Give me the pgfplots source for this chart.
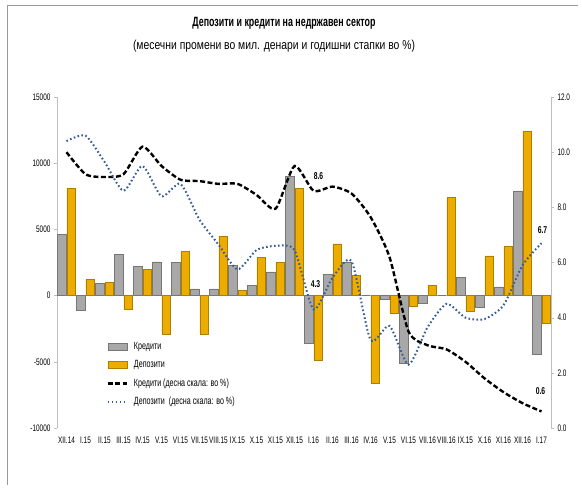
\documentclass[border=0pt]{standalone}
\usepackage{fontspec}
\setmainfont{Liberation Sans}
\newfontfamily\narrow[FakeStretch=0.68]{Liberation Sans}
\newfontfamily\narrowt[FakeStretch=0.66]{Liberation Sans}
\newfontfamily\narrows[FakeStretch=0.8]{Liberation Sans}
\usepackage{pgfplots}
\pgfplotsset{compat=1.18}
\pgfplotsset{myline legend/.style={legend image code/.code={\draw[##1] (0bp,0bp) -- (19bp,0bp); \path (23bp,0bp);}}}
\definecolor{gold}{RGB}{236,172,0}
\definecolor{golddark}{RGB}{175,125,0}
\definecolor{barg}{RGB}{168,168,168}
\definecolor{bargdark}{RGB}{118,118,118}
\definecolor{dotblue}{RGB}{52,92,150}
\definecolor{axgray}{RGB}{190,190,190}
\begin{document}
\begin{tikzpicture}[x=1bp,y=1bp]
\path[use as bounding box] (0,0) rectangle (582,489);
\draw[gray!80, line width=0.8bp] (7,484) -- (578,484);
\draw[gray!80, line width=0.8bp] (7,484) -- (7,4);
\node[font=\narrowt\bfseries\fontsize{13.5}{13.5}\selectfont] at (284,466) {Депозити и кредити на недржавен сектор};
\node[font=\narrows\fontsize{13}{13}\selectfont] at (274,443) {(месечни промени во мил. денари и годишни стапки во \%)};
\begin{axis}[
  at={(57bp,61bp)}, anchor=south west, scale only axis,
  width=494bp, height=331bp,
  xmin=-0.5, xmax=25.5, ymin=-10000, ymax=15000,
  axis y line*=left, axis x line*=bottom,
  x axis line style={draw=none},
  y axis line style={draw=axgray},
  xtick={0,...,25},
  xticklabels={XII.14,I.15,II.15,III.15,IV.15,V.15,VI.15,VII.15,VIII.15,IX.15,X.15,XI.15,XII.15,I.16,II.16,III.16,IV.16,V.15,VI.15,VII.16,VIII.16,IX.15,X.16,XI.16,XII.16,I.17},
  major x tick style={draw=none},
  xticklabel style={font=\narrow\fontsize{9.5}{9.5}\selectfont, yshift=-2bp},
  ytick={-10000,-5000,0,5000,10000,15000},
  scaled y ticks=false,
  yticklabel style={font=\narrow\fontsize{9.5}{9.5}\selectfont, /pgf/number format/fixed, /pgf/number format/1000 sep={}, /pgf/number format/assume math mode=true},
  tick align=outside, major tick length=3bp,
  major y tick style={draw=axgray},
  clip=false,
]
\draw[axgray, line width=0.8bp] (-0.5,0) -- (25.5,0);
\addplot[ybar, bar width=8.5bp, bar shift=-4.6bp, fill=barg, draw=bargdark, line width=0.5bp] coordinates {
(0,4600) (1,-1100) (2,950) (3,3100) (4,2200) (5,2550) (6,2500) (7,500) (8,500) (9,2300) (10,800) (11,1800) (12,9000) (13,-3600) (14,1600) (15,2500) (16,0) (17,-300) (18,-5100) (19,-600) (20,0) (21,1400) (22,-900) (23,650) (24,7900) (25,-4400)};
\addplot[ybar, bar width=8.5bp, bar shift=4.6bp, fill=gold, draw=golddark, line width=0.5bp] coordinates {
(0,8100) (1,1250) (2,1000) (3,-1000) (4,2000) (5,-2900) (6,3350) (7,-2900) (8,4500) (9,400) (10,2900) (11,2500) (12,8100) (13,-4900) (14,3900) (15,1500) (16,-6600) (17,-1300) (18,-800) (19,750) (20,7400) (21,-1200) (22,3000) (23,3700) (24,12400) (25,-2100)};
\end{axis}
\begin{axis}[
  at={(57bp,61bp)}, anchor=south west, scale only axis,
  width=494bp, height=331bp,
  xmin=-0.5, xmax=25.5, ymin=0, ymax=12,
  axis y line*=right, axis x line=none,
  y axis line style={draw=axgray},
  ytick={0,2,...,12},
  yticklabel style={font=\narrow\fontsize{9.5}{9.5}\selectfont, /pgf/number format/fixed, /pgf/number format/fixed zerofill, /pgf/number format/precision=1, /pgf/number format/assume math mode=true},
  tick align=outside, major tick length=3bp,
  major y tick style={draw=axgray},
  clip=false,
  legend style={draw=none, fill=none, at={(0.1,0.265)}, anchor=north west, font=\narrow\fontsize{10.5}{11}\selectfont, row sep=5.5bp, inner sep=0pt},
  legend cell align=left,
]
\addlegendimage{legend image code/.code={\draw[fill=barg, draw=bargdark, line width=0.5bp] (0bp,-3.5bp) rectangle (19bp,3.5bp); \path (23bp,0bp);}}
\addlegendentry{Кредити}
\addlegendimage{legend image code/.code={\draw[fill=gold, draw=golddark, line width=0.5bp] (0bp,-3.5bp) rectangle (19bp,3.5bp); \path (23bp,0bp);}}
\addlegendentry{Депозити}
\addplot[black, line width=2.4bp, dash pattern=on 5bp off 2.5bp, smooth, tension=0.4, myline legend] coordinates {
(0,10.0) (1,9.2) (2,9.1) (3,9.2) (4,10.2) (5,9.5) (6,9.0) (7,8.95) (8,8.85) (9,8.85) (10,8.45) (11,7.95) (12,9.5) (13,8.6) (14,8.75) (15,8.5) (16,7.65) (17,6.2) (18,3.5) (19,3.0) (20,2.85) (21,2.4) (22,1.8) (23,1.3) (24,0.9) (25,0.6)};
\addlegendentry{Кредити (десна скала: во \%)}
\addplot[dotblue, line width=2bp, dash pattern=on 1.6bp off 2.4bp, smooth, tension=0.4, myline legend] coordinates {
(0,10.4) (1,10.6) (2,9.65) (3,8.6) (4,9.5) (5,8.4) (6,8.85) (7,7.55) (8,6.65) (9,5.75) (10,6.45) (11,6.6) (12,6.45) (13,4.3) (14,5.45) (15,6.05) (16,3.2) (17,3.7) (18,2.3) (19,3.65) (20,4.5) (21,4.0) (22,3.95) (23,4.45) (24,5.9) (25,6.7)};
\addlegendentry{Депозити\ \ (десна скала: во \%)}
\node[font=\narrow\bfseries\fontsize{10}{10}\selectfont, xshift=5bp, yshift=15bp] at (13,8.6) {8.6};
\node[font=\narrow\bfseries\fontsize{10}{10}\selectfont, xshift=2bp, yshift=25bp] at (13,4.3) {4.3};
\node[font=\narrow\bfseries\fontsize{10}{10}\selectfont, xshift=1bp, yshift=13bp] at (25,6.7) {6.7};
\node[font=\narrow\bfseries\fontsize{10}{10}\selectfont, xshift=-1bp, yshift=20bp] at (25,0.6) {0.6};
\end{axis}
\end{tikzpicture}
\end{document}
